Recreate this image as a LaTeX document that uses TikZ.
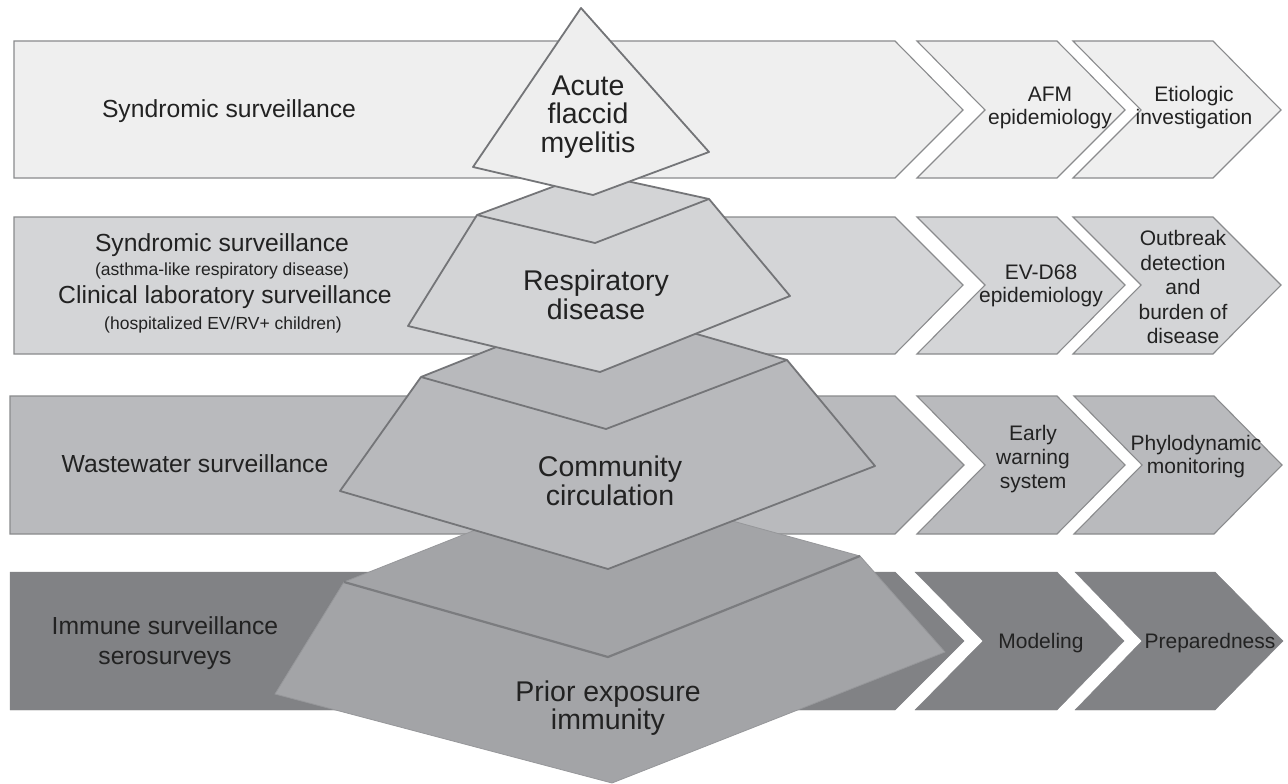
\documentclass[tikz,border=0pt]{standalone}
\usepackage{fontspec}
\setmainfont{Liberation Sans}
\definecolor{cA}{HTML}{EFEFEF}
\definecolor{cB}{HTML}{D4D5D7}
\definecolor{cC}{HTML}{B9BABD}
\definecolor{cD}{HTML}{818285}
\definecolor{pA}{HTML}{EEEEEE}
\definecolor{pB}{HTML}{D3D4D6}
\definecolor{pC}{HTML}{B8B9BC}
\definecolor{pD}{HTML}{A3A4A7}
\definecolor{cline}{HTML}{8A8B8D}
\definecolor{cpyr}{HTML}{747578}
\definecolor{ctext}{HTML}{222222}
\begin{document}
\begin{tikzpicture}[x=1pt,y=-1pt,
  bandline/.style={draw=cline, line width=1.1pt, line join=miter},
  pyr/.style={draw=cpyr, line width=1.8pt, line join=round},
  lbl/.style={text=ctext, inner sep=0pt, align=center, font=\fontsize{24.7}{30}\selectfont},
  sublbl/.style={text=ctext, inner sep=0pt, align=center, font=\fontsize{17.5}{20}\selectfont},
  pyrlbl/.style={text=ctext, inner sep=0pt, align=center, font=\fontsize{28.5}{28.5}\selectfont},
  chevlbl/.style={text=ctext, inner sep=0pt, align=center, font=\fontsize{21}{23}\selectfont}]
\useasboundingbox[fill=white] (0,0) rectangle (1288,784);

% ---------- bands and chevrons ----------
% row 1
\path[bandline, fill=cA] (14,41) -- (895,41) -- (963,110) -- (895,178) -- (14,178) -- cycle;
\path[bandline, fill=cA] (917,41) -- (1057,41) -- (1125,110) -- (1057,178) -- (917,178) -- (985,110) -- cycle;
\path[bandline, fill=cA] (1073,41) -- (1213,41) -- (1281,110) -- (1213,178) -- (1073,178) -- (1141,110) -- cycle;
% row 2
\path[bandline, fill=cB] (14,217) -- (895,217) -- (963,285) -- (895,354) -- (14,354) -- cycle;
\path[bandline, fill=cB] (917,217) -- (1057,217) -- (1125,285) -- (1057,354) -- (917,354) -- (985,285) -- cycle;
\path[bandline, fill=cB] (1073,217) -- (1213,217) -- (1281,285) -- (1213,354) -- (1073,354) -- (1141,285) -- cycle;
% row 3
\path[bandline, fill=cC] (10,396) -- (895,396) -- (964,465) -- (895,534) -- (10,534) -- cycle;
\path[bandline, fill=cC] (917,396) -- (1057,396) -- (1125,465) -- (1057,534) -- (917,534) -- (985,465) -- cycle;
\path[bandline, fill=cC] (1074,396) -- (1214,396) -- (1282,465) -- (1214,534) -- (1074,534) -- (1142,465) -- cycle;
% row 4
\path[draw=cD, fill=cD] (10,572) -- (895,572) -- (964,641) -- (895,710) -- (10,710) -- cycle;
\path[draw=cD, fill=cD] (915,572) -- (1057,572) -- (1124,641) -- (1057,710) -- (915,710) -- (983,641) -- cycle;
\path[draw=cD, fill=cD] (1075,572) -- (1215,572) -- (1283,641) -- (1215,710) -- (1075,710) -- (1142,641) -- cycle;

% ---------- pyramid ----------
% layer 4
\path[fill=pD, draw=pD!92!black, line width=0.8pt] (594,483) -- (860,556) -- (945,652) -- (612,783) -- (275,694) -- (344,582) -- cycle;
\draw[draw=cpyr!95!white, line width=2.2pt, line join=round] (344,582) -- (608,657) -- (860,556);
% layer 3
\path[pyr, fill=pC] (599,306) -- (787,360) -- (875,466) -- (608,569) -- (340,491) -- (421,377) -- cycle;
\draw[pyr] (421,377) -- (606,429) -- (787,360);
% layer 2
\path[pyr, fill=pB] (590,173) -- (709,199) -- (790,296) -- (600,372) -- (408,326) -- (477,215) -- cycle;
\draw[pyr] (477,215) -- (595,243) -- (709,199);
% layer 1
\path[pyr, fill=pA] (581,8) -- (709,152) -- (593,195) -- (473,167) -- cycle;

% ---------- texts ----------
\node[lbl] (r1) at (229,111) {Syndromic surveillance};
\node[lbl] (r2a) at (222,245) {Syndromic surveillance};
\node[sublbl] (r2b) at (222,271) {(asthma-like respiratory disease)};
\node[lbl] (r2c) at (225,297) {Clinical laboratory surveillance};
\node[sublbl] (r2d) at (223,325) {(hospitalized EV/RV+ children)};
\node[lbl] (r3) at (195,464) {Wastewater surveillance};
\node[lbl] (r4) at (165,643) {Immune surveillance\\serosurveys};

\node[pyrlbl] (p1) at (588,117) {Acute\\flaccid\\myelitis};
\node[pyrlbl] (p2) at (596,295) {Respiratory\\disease};
\node[pyrlbl] (p3) at (610,481) {Community\\circulation};
\node[pyrlbl] (p4) at (608,708) {Prior exposure\\immunity};

\node[chevlbl] (a1) at (1050,108) {AFM\\epidemiology};
\node[chevlbl] (b1) at (1194,108) {Etiologic\\investigation};
\node[chevlbl] (a2) at (1041,286) {EV-D68\\epidemiology};
\node[chevlbl, font=\fontsize{21}{24.5}\selectfont] (b2) at (1183,287) {Outbreak\\detection\\and\\burden of\\disease};
\node[chevlbl, font=\fontsize{21}{24}\selectfont] (a3) at (1033,459) {Early\\warning\\system};
\node[chevlbl] (b3) at (1196,457) {Phylodynamic\\monitoring};
\node[chevlbl] (a4) at (1041,643) {Modeling};
\node[chevlbl] (b4) at (1210,643) {Preparedness};
\end{tikzpicture}
\end{document}
